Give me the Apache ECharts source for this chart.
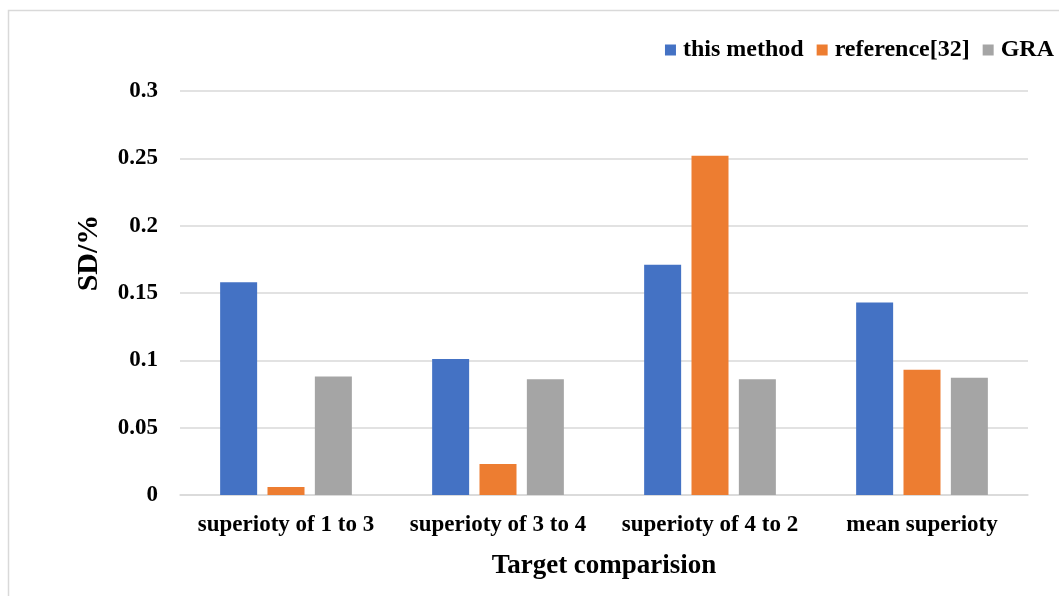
<!DOCTYPE html>
<html>
<head>
<meta charset="utf-8">
<script src="https://cdn.jsdelivr.net/npm/echarts@6/dist/echarts.min.js"></script>
<style>
  html, body { margin: 0; padding: 0; background: #fff; }
  #chart { width: 1059px; height: 596px; }
</style>
</head>
<body>
<div id="chart"></div>
<script>
// Categories and series values
const categories = ['superioty of 1 to 3', 'superioty of 3 to 4', 'superioty of 4 to 2', 'mean superioty'];
const thisMethod = [0.158, 0.101, 0.171, 0.143];
const reference32 = [0.006, 0.023, 0.252, 0.093];
const gra = [0.088, 0.086, 0.086, 0.087];
const seriesNames = ['this method', 'reference[32]', 'GRA'];
const yTicks = { min: 0, max: 0.3, interval: 0.05 };

const serif = '"Liberation Serif", "Times New Roman", serif';
const chart = echarts.init(document.getElementById('chart'));

chart.setOption({
  backgroundColor: '#fff',
  animation: false,
  color: ['#4472C4', '#ED7D31', '#A5A5A5'],
  graphic: [{
    type: 'rect',
    shape: { x: 8.5, y: 10.5, width: 1070, height: 620 },
    style: { fill: 'none', stroke: '#d9d9d9', lineWidth: 1.5 },
    silent: true
  }],
  legend: {
    right: 0,
    top: 33,
    itemWidth: 11,
    itemHeight: 11,
    itemGap: 13,
    itemStyle: { borderWidth: 0 },
    icon: 'rect',
    textStyle: { fontFamily: serif, fontWeight: 'bold', fontSize: 24, color: '#000', padding: [0, 0, 0, 2] },
    data: seriesNames
  },
  grid: { left: 180, right: 31, top: 91, bottom: 101 },
  xAxis: {
    type: 'category',
    data: categories,
    name: 'Target comparision',
    nameLocation: 'middle',
    nameGap: 58,
    nameTextStyle: { fontFamily: serif, fontWeight: 'bold', fontSize: 27, color: '#000' },
    axisLine: { lineStyle: { color: '#d9d9d9', width: 1.5 } },
    axisTick: { show: false },
    axisLabel: { interval: 0, hideOverlap: false, fontFamily: serif, fontWeight: 'bold', fontSize: 23, color: '#000', margin: 19 }
  },
  yAxis: {
    type: 'value',
    min: yTicks.min,
    max: yTicks.max,
    interval: yTicks.interval,
    name: 'SD/%',
    nameLocation: 'middle',
    nameGap: 76,
    nameTextStyle: { fontFamily: serif, fontWeight: 'bold', fontSize: 30, color: '#000', padding: [0, 0, 0, 80] },
    axisLine: { show: false },
    axisTick: { show: false },
    splitLine: { lineStyle: { color: '#d9d9d9', width: 1.5 } },
    axisLabel: { fontFamily: serif, fontWeight: 'bold', fontSize: 23, color: '#000', margin: 22 }
  },
  series: [
    { name: seriesNames[0], type: 'bar', data: thisMethod, barWidth: 37, barGap: '28%' },
    { name: seriesNames[1], type: 'bar', data: reference32, barWidth: 37, barGap: '28%' },
    { name: seriesNames[2], type: 'bar', data: gra, barWidth: 37, barGap: '28%' }
  ]
});
</script>
</body>
</html>
